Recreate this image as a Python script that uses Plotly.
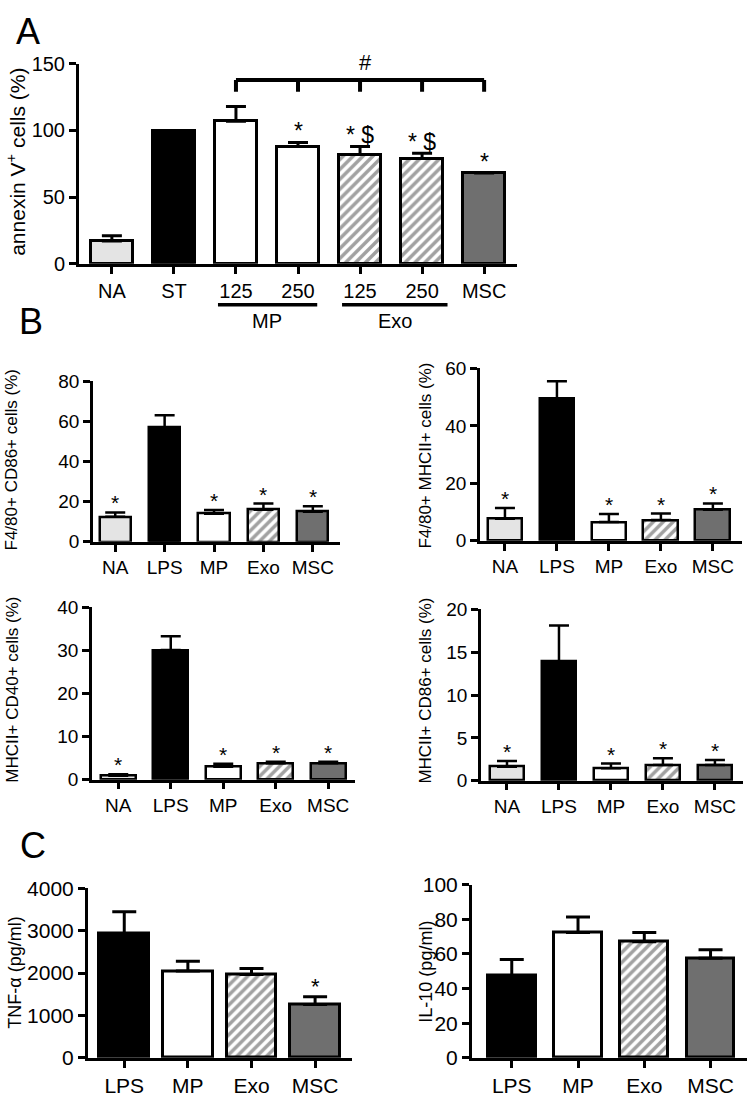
import plotly.graph_objects as go

W, H = 750, 1108
FONT = "Arial, Liberation Sans, sans-serif"

# ---------------- data ----------------
# Panel A
a_groups = ["NA", "ST", "MP", "MP", "Exo", "Exo", "MSC"]
a_ticks = ["NA", "ST", "125", "250", "125", "250", "MSC"]
a_vals = [17, 100, 107, 88, 82, 79, 68]
a_err = [4, 0, 11, 3, 6, 4, 0]
a_marks = ["", "", "", "*", "* $", "* $", "*"]

# Panel B
b_groups = ["NA", "LPS", "MP", "Exo", "MSC"]
b_marks = ["*", "", "*", "*", "*"]
b1_vals = [12.5, 57, 14, 16, 15]
b1_err = [2.1, 6, 1.8, 3, 2.7]
b2_vals = [7.7, 49.5, 6.5, 7.2, 10.8]
b2_err = [3.7, 6, 2.8, 2.3, 2.2]
b3_vals = [0.9, 30.1, 3.0, 3.8, 3.8]
b3_err = [0.4, 3.2, 0.7, 0.4, 0.4]
b4_vals = [1.64, 13.9, 1.45, 1.83, 1.83]
b4_err = [0.65, 4.2, 0.55, 0.8, 0.6]

# Panel C
c_groups = ["LPS", "MP", "Exo", "MSC"]
c1_vals = [2930, 2050, 1970, 1260]
c1_err = [520, 230, 140, 180]
c1_marks = ["", "", "", "*"]
c2_vals = [47.4, 72.3, 67, 57.5]
c2_err = [9.4, 9, 5.3, 4.8]
c2_marks = ["", "", "", ""]

FILL = {"NA": "#e4e4e4", "ST": "#000000", "LPS": "#000000", "MP": "#ffffff",
        "Exo": "#ffffff", "MSC": "#6f6f6f"}
HATCH = {"Exo": "/"}


def px_x(p):
    return p / W


def px_y(p):
    return 1 - p / H


fig = go.Figure()
annotations = []
shapes = []


def add_panel(idx, vals, err, groups, ticktext, marks, xdom_px, ydom_px,
              xrange_, yrange_, dtick, tickfont, lw, capw, bw, markfont):
    xa = "x" if idx == 1 else f"x{idx}"
    ya = "y" if idx == 1 else f"y{idx}"
    xs = list(range(len(vals)))
    fig.add_trace(go.Bar(
        x=xs, y=vals, xaxis=xa, yaxis=ya, width=bw,
        marker=dict(
            color=[FILL[g] for g in groups],
            line=dict(color="black", width=lw),
            pattern=dict(shape=[HATCH.get(g, "") for g in groups],
                         fgcolor="black", bgcolor="white", size=7,
                         solidity=0.5),
        ),
        error_y=dict(type="data", symmetric=False, array=err,
                     arrayminus=[0] * len(err), color="black",
                     thickness=lw, width=capw),
        showlegend=False, hoverinfo="skip",
    ))
    axkey_x = "xaxis" if idx == 1 else f"xaxis{idx}"
    axkey_y = "yaxis" if idx == 1 else f"yaxis{idx}"
    fig.layout[axkey_x] = dict(
        domain=[px_x(xdom_px[0]), px_x(xdom_px[1])], range=xrange_,
        anchor=ya, tickmode="array", tickvals=xs, ticktext=ticktext,
        showline=True, linecolor="black", linewidth=lw, ticks="outside",
        ticklen=7, tickwidth=lw, tickcolor="black", showgrid=False,
        zeroline=False, tickfont=dict(family=FONT, size=tickfont, color="black"),
        fixedrange=True,
    )
    fig.layout[axkey_y] = dict(
        domain=[px_y(ydom_px[0]), px_y(ydom_px[1])], range=yrange_,
        anchor=xa, dtick=dtick, tick0=0,
        showline=True, linecolor="black", linewidth=lw, ticks="outside",
        ticklen=7, tickwidth=lw, tickcolor="black", showgrid=False,
        zeroline=False, tickfont=dict(family=FONT, size=tickfont, color="black"),
        fixedrange=True,
    )
    for x, v, e, m in zip(xs, vals, err, marks):
        if m:
            annotations.append(dict(
                x=x, y=v + e, xref=xa, yref=ya, text=m, showarrow=False,
                xanchor="center", yanchor="bottom", yshift=-4,
                font=dict(family=FONT, size=markfont, color="black")))
    return xa, ya


# Panel A
xa, ya = add_panel(1, a_vals, a_err, a_groups, a_ticks, a_marks,
                   (79, 517), (257, 53), [-0.53, 6.53], [0, 150], 50,
                   20, 3, 10, 0.68, 23)
# bracket (#)
shapes.append(dict(type="line", xref=xa, yref=ya, x0=2, x1=6, y0=138, y1=138,
                   line=dict(color="black", width=4)))
for xb in [2, 3, 4, 5, 6]:
    shapes.append(dict(type="line", xref=xa, yref=ya, x0=xb, x1=xb,
                       y0=138, y1=129, line=dict(color="black", width=4)))
annotations.append(dict(x=px_x(365), y=px_y(52), xref="paper", yref="paper",
                        text="#", showarrow=False, xanchor="center",
                        yanchor="middle",
                        font=dict(family=FONT, size=22, color="black")))
# group underlines
for x0, x1, lab, xc in [(1.71, 3.31, "MP", 2.5), (3.71, 5.41, "Exo", 4.56)]:
    shapes.append(dict(type="line", xref=xa, yref="paper", x0=x0, x1=x1,
                       y0=px_y(299), y1=px_y(299),
                       line=dict(color="black", width=3.5)))
    annotations.append(dict(x=xc, y=px_y(316), xref=xa, yref="paper",
                            text=lab, showarrow=False, xanchor="center",
                            yanchor="middle",
                            font=dict(family=FONT, size=20, color="black")))

# Panel B
add_panel(2, b1_vals, b1_err, b_groups, b_groups, b_marks,
          (93, 340), (541, 377), [-0.45, 4.55], [0, 80], 20, 19, 2.5, 10, 0.63, 21)
add_panel(3, b2_vals, b2_err, b_groups, b_groups, b_marks,
          (480, 742), (540, 364), [-0.48, 4.56], [0, 60], 20, 19, 2.5, 10, 0.67, 21)
add_panel(4, b3_vals, b3_err, b_groups, b_groups, b_marks,
          (92, 355), (784, 608), [-0.5, 4.51], [0, 40], 10, 19, 2.5, 10, 0.66, 21)
add_panel(5, b4_vals, b4_err, b_groups, b_groups, b_marks,
          (481, 743), (785, 610), [-0.5, 4.54], [0, 20], 5, 19, 2.5, 10, 0.67, 21)

# Panel C
add_panel(6, c1_vals, c1_err, c_groups, c_groups, c1_marks,
          (88, 352), (1068, 895), [-0.57, 3.58], [0, 4000], 1000, 21, 3, 12, 0.78, 22)
add_panel(7, c2_vals, c2_err, c_groups, c_groups, c2_marks,
          (472, 747), (1068, 891), [-0.6, 3.55], [0, 100], 20, 21, 3, 12, 0.72, 22)

# axis titles
titles = [
    ("annexin V<sup>+</sup> cells (%)", 16, 153, 21),
    ("F4/80+ CD86+ cells (%)", 11, 458, 17),
    ("F4/80+ MHCII+ cells (%)", 426, 453, 17),
    ("MHCII+ CD40+ cells (%)", 13, 692, 17),
    ("MHCII+ CD86+ cells (%)", 426, 693, 17),
    ("TNF-\u03b1 (pg/ml)", 15, 981, 18),
    ("IL-10 (pg/ml)", 426, 980, 18),
]
for t, x, y, s in titles:
    annotations.append(dict(x=px_x(x), y=px_y(y), xref="paper", yref="paper",
                            text=t, textangle=-90, showarrow=False,
                            xanchor="center", yanchor="middle",
                            font=dict(family=FONT, size=s, color="black")))

# panel letters
for t, x, y in [("A", 28, 20), ("B", 31, 316), ("C", 33, 851)]:
    annotations.append(dict(x=px_x(x), y=px_y(y), xref="paper", yref="paper",
                            text=t, showarrow=False, xanchor="center",
                            yanchor="middle",
                            font=dict(family=FONT, size=36, color="black")))

fig.update_layout(
    width=W, height=H, margin=dict(l=0, r=0, t=0, b=0),
    paper_bgcolor="white", plot_bgcolor="white",
    annotations=annotations, shapes=shapes, bargap=0,
    font=dict(family=FONT, color="black"),
)
fig.write_html("out.html", config={"displayModeBar": False},
               post_script="document.body.style.margin='0';"
                           "document.body.style.overflow='hidden';")
